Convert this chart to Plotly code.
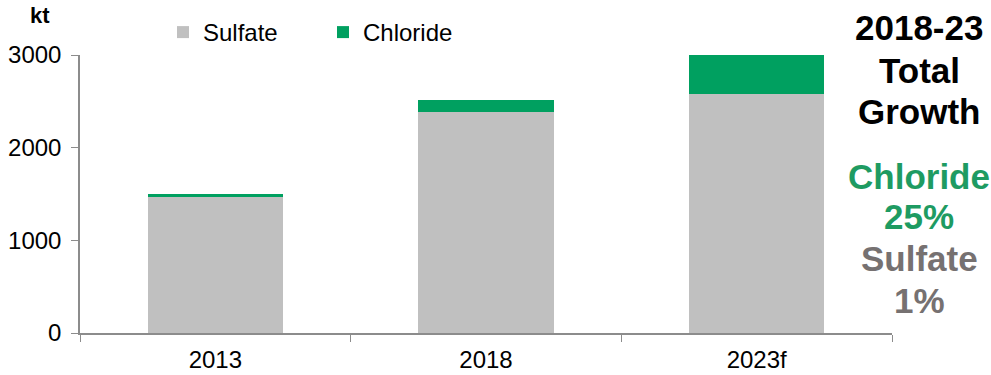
import plotly.graph_objects as go

# Potash demand by type, thousand tonnes
years = ["2013", "2018", "2023f"]
sulfate = [1470, 2380, 2580]
chloride = [30, 136, 420]

growth_title = ["2018-23", "Total", "Growth"]
chloride_growth = ["Chloride", "25%"]
sulfate_growth = ["Sulfate", "1%"]

GREEN = "#00A060"
GREY = "#C0C0C0"
AXIS = "#8C8C8C"
FONT = "Arial, Liberation Sans, sans-serif"

W, H = 991, 375
L, R, T, B = 80, 99, 55, 42
plot_h = H - T - B


def ypaper(py):
    return (H - B - py) / plot_h


def xpaper(px):
    return (px - L) / (W - L - R)


fig = go.Figure()
fig.add_trace(go.Bar(x=years, y=sulfate, name="Sulfate", marker_color=GREY,
                     marker_line_width=0))
fig.add_trace(go.Bar(x=years, y=chloride, name="Chloride", marker_color=GREEN,
                     marker_line_width=0))

fig.update_layout(
    width=W, height=H,
    margin=dict(l=L, r=R, t=T, b=B, autoexpand=False),
    barmode="stack",
    bargap=0.5,
    plot_bgcolor="white",
    paper_bgcolor="white",
    font=dict(family=FONT, size=24, color="black"),
    legend=dict(
        orientation="h",
        x=xpaper(163), xanchor="left",
        y=ypaper(10), yanchor="top",
        font=dict(size=24),
        entrywidth=115, entrywidthmode="pixels",
        bgcolor="rgba(0,0,0,0)",
        traceorder="normal",
    ),
    xaxis=dict(
        showline=True, linecolor=AXIS, linewidth=1.5,
        ticks="outside", tickson="boundaries", ticklen=7, tickcolor=AXIS,
        tickfont=dict(size=24), ticklabelstandoff=4,
        showgrid=False, automargin=False,
    ),
    yaxis=dict(
        range=[0, 3000],
        tickvals=[0, 1000, 2000, 3000],
        showline=True, linecolor=AXIS, linewidth=1.5,
        ticks="outside", ticklen=7, tickcolor=AXIS,
        tickfont=dict(size=24), ticklabelstandoff=5,
        showgrid=False, zeroline=False, automargin=False,
    ),
)

annotations = [
    dict(text="<b>kt</b>", x=xpaper(40), y=ypaper(15), font=dict(size=22)),
]
for text, py in zip(growth_title, [28, 70, 112]):
    annotations.append(dict(text=f"<b>{text}</b>", x=xpaper(919), y=ypaper(py),
                            font=dict(size=35, color="black")))
for text, py in zip(chloride_growth, [176, 216]):
    annotations.append(dict(text=f"<b>{text}</b>", x=xpaper(919), y=ypaper(py),
                            font=dict(size=35, color="#1E9B62")))
for text, py in zip(sulfate_growth, [258, 300]):
    annotations.append(dict(text=f"<b>{text}</b>", x=xpaper(919), y=ypaper(py),
                            font=dict(size=35, color="#767171")))

for a in annotations:
    a.update(xref="paper", yref="paper", xanchor="center", yanchor="middle",
             showarrow=False)
fig.update_layout(annotations=annotations)

fig.write_html("out.html")
